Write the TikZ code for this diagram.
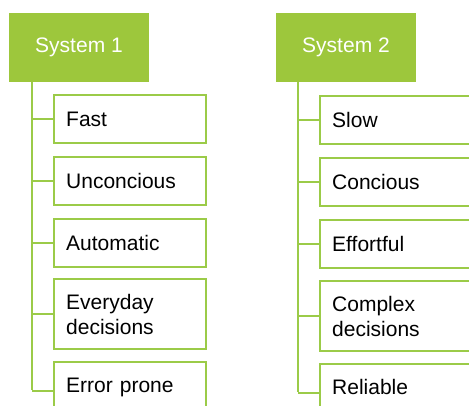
\documentclass[tikz,border=0pt]{standalone}
\usepackage{fontspec}
\setmainfont{Liberation Sans}
\definecolor{hdgreen}{HTML}{9DC73C}
\definecolor{lngreen}{HTML}{9BCB48}
\begin{document}
\begin{tikzpicture}[x=1pt,y=-1pt,
  head/.style={fill=hdgreen, text=white, minimum width=140pt, minimum height=69pt, inner sep=0pt, font=\fontsize{21}{25}\selectfont},
  item/.style={draw=lngreen, line width=2.4pt, fill=white, anchor=north west, text width=128pt, inner xsep=12pt, inner ysep=0pt, align=left, font=\fontsize{21}{25}\selectfont},
  lastitem/.style={item, minimum height=58pt, text depth=12pt},
  conn/.style={draw=lngreen, line width=2.4pt}]
\useasboundingbox (0,0) rectangle (469,405);
\clip (0,0) rectangle (469,405);
% System 1
\node[head] (s1) at (79,47.5) {System 1\hspace{7pt}};
\coordinate (t1) at (32,390);
\node[item, minimum height=48pt] (a1) at (53,94) {Fast};
\node[item, minimum height=48pt] (a2) at (53,155.5) {Unconcious};
\node[item, minimum height=48pt] (a3) at (53,218) {Automatic};
\node[item, minimum height=70pt] (a4) at (53,278) {Everyday\\decisions};
\node[lastitem] (a5) at (53,361) {Error prone};
\draw[conn] (s1.south -| t1) -- (t1);
\foreach \n in {a1,a2,a3,a4,a5} \draw[conn] (\n.west -| t1) -- (\n.west);
% System 2
\node[head] (s2) at (346,47.5) {System 2\hspace{7pt}};
\coordinate (t2) at (298,392);
\node[item, minimum height=48pt] (b1) at (319,95) {Slow};
\node[item, minimum height=48pt] (b2) at (319,157) {Concious};
\node[item, minimum height=48pt] (b3) at (319,219) {Effortful};
\node[item, minimum height=70pt] (b4) at (319,280) {Complex\\decisions};
\node[lastitem] (b5) at (319,363) {Reliable};
\draw[conn] (s2.south -| t2) -- (t2);
\foreach \n in {b1,b2,b3,b4,b5} \draw[conn] (\n.west -| t2) -- (\n.west);
\end{tikzpicture}
\end{document}
